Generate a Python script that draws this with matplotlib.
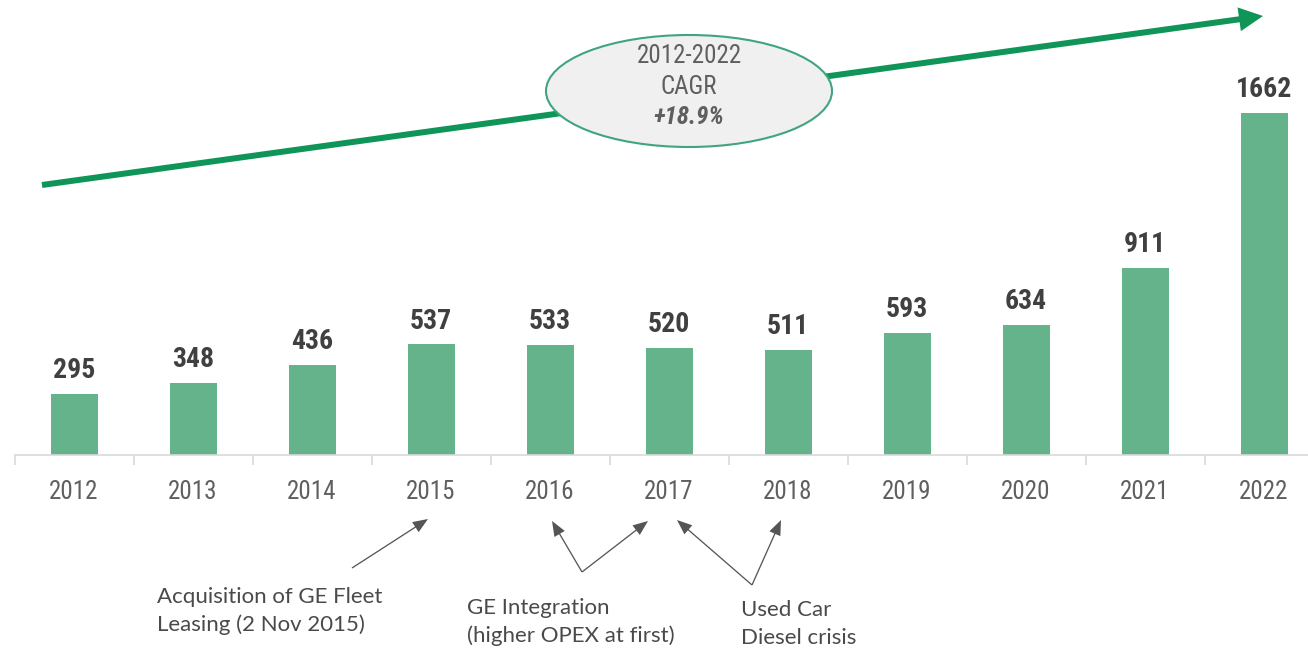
import matplotlib
matplotlib.use("Agg")
import matplotlib.pyplot as plt
from matplotlib.patches import Ellipse, FancyArrow

# ---- data ----
years = ["2012", "2013", "2014", "2015", "2016", "2017", "2018", "2019", "2020", "2021", "2022"]
values = [295, 348, 436, 537, 533, 520, 511, 593, 634, 911, 1662]
cagr_lines = ["2012-2022", "CAGR"]
cagr_value = "+18.9%"
note_acq = ["Acquisition of GE Fleet", "Leasing (2 Nov 2015)"]
note_ge = ["GE Integration", "(higher OPEX at first)"]
note_used = ["Used Car", "Diesel crisis"]

W, H = 1308, 652
fig = plt.figure(figsize=(W / 100, H / 100), dpi=100)

NARROW = ["Roboto Condensed", "Liberation Sans Narrow", "Roboto", "DejaVu Sans"]
BAR = "#64b38a"
GREEN = "#0f9558"
GRAY = "#5f5f5f"
DARK = "#404040"

# main bar axes
spacing = 119.0
left_px = 74 - spacing / 2
ax = fig.add_axes([left_px / W, 197 / H, (spacing * 11) / W, 455 / H])
x = list(range(len(years)))
ax.bar(x, values, width=47 / spacing, color=BAR, zorder=2)
ax.set_xlim(-0.5, len(years) - 0.5)
ax.set_ylim(0, 455 / 0.2058)
for s in ["top", "right", "left"]:
    ax.spines[s].set_visible(False)
ax.spines["bottom"].set_color("#d9d9d9")
ax.spines["bottom"].set_linewidth(1.2)
ax.set_yticks([])
ax.set_xticks(x)
ax.set_xticklabels(years, fontfamily=NARROW, fontsize=18, color=GRAY)
ax.tick_params(axis="x", which="major", length=0, pad=18)
ax.set_xticks([i - 0.5 for i in range(len(years) + 1)], minor=True)
ax.tick_params(axis="x", which="minor", length=7, color="#d9d9d9", width=1.2)
for xi, v in zip(x, values):
    ax.annotate(str(v), (xi, v), xytext=(0, 11.5), textcoords="offset points",
                ha="center", va="baseline", fontfamily=NARROW, fontsize=20,
                fontweight="bold", color=DARK)

# overlay in pixel coordinates
ov = fig.add_axes([0, 0, 1, 1])
ov.set_xlim(0, W)
ov.set_ylim(H, 0)
ov.axis("off")
ov.patch.set_alpha(0)

# trend arrow
x0, y0, x1, y1 = 42, 185, 1263, 16
ov.add_patch(FancyArrow(x0, y0, x1 - x0, y1 - y0, width=6, head_width=24,
                        head_length=24, length_includes_head=True,
                        color=GREEN, lw=0, zorder=2))

# CAGR ellipse
ov.add_patch(Ellipse((689, 91), 286, 112, facecolor="#f0f0f0",
                     edgecolor="#3fa57c", lw=1.5, zorder=3))
ov.text(689, 56, cagr_lines[0], ha="center", va="center", fontfamily=NARROW,
        fontsize=18, color=GRAY, zorder=4)
ov.text(689, 87, cagr_lines[1], ha="center", va="center", fontfamily=NARROW,
        fontsize=18, color=GRAY, zorder=4)
ov.text(689, 117, cagr_value, ha="center", va="center", fontfamily=NARROW,
        fontsize=18, fontweight="bold", fontstyle="italic", color=GRAY, zorder=4)

# annotation arrows
def arr(xs, ys, xe, ye):
    ov.add_patch(FancyArrow(xs, ys, xe - xs, ye - ys, width=1.3, head_width=12,
                            head_length=15, length_includes_head=True,
                            color="#555555", lw=0, zorder=2))

arr(352, 568, 428, 519)
arr(582, 572, 552, 521)
arr(582, 572, 648, 521)
arr(752, 585, 677, 520)
arr(752, 585, 781, 520)

ANN = ["Lato", "DejaVu Sans"]
def note(xl, yc, lines):
    for k, line in enumerate(lines):
        ov.text(xl, yc + 28 * k, line, ha="left", va="center", fontfamily=ANN,
                fontsize=16, color="#4a4a4a")

note(157, 597, note_acq)
note(467, 608, note_ge)
note(741, 610, note_used)

fig.savefig("out.png", dpi=100)
